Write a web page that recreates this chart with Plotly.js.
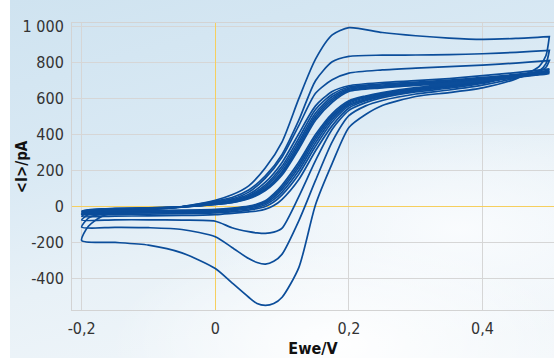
<!DOCTYPE html>
<html>
<head>
<meta charset="utf-8">
<script src="https://cdn.plot.ly/plotly-3.0.1.min.js"></script>
<style>
  html, body { margin: 0; padding: 0; width: 554px; height: 358px; overflow: hidden; background: #ffffff; }
  #bg { position: absolute; left: 10px; top: 0; width: 544px; height: 358px;
        background:
          radial-gradient(ellipse 230px 110px at 330px 345px, rgba(255,255,255,0.95), rgba(255,255,255,0) 100%),
          radial-gradient(ellipse 260px 110px at 450px 230px, rgba(250,252,254,0.95), rgba(250,252,254,0) 100%),
          linear-gradient(165deg, #cfe3f0 0%, #d9e9f4 35%, #e8f1f7 60%, #f4f8fb 100%); }
  #chart { position: absolute; left: 0; top: 0; width: 554px; height: 358px; }
</style>
</head>
<body>
<div id="bg"></div>
<div id="chart"></div>
<script>
// Potential grids (V) for the forward (anodic) and reverse (cathodic) sweeps
var E_fwd = [-0.2, -0.19, -0.17, -0.15, -0.1, -0.05, 0, 0.025, 0.05, 0.075, 0.1, 0.125, 0.15, 0.175, 0.2, 0.25, 0.3, 0.35, 0.4, 0.45, 0.5];
var E_rev = [0.5, 0.495, 0.485, 0.47, 0.45, 0.4, 0.35, 0.3, 0.25, 0.225, 0.2, 0.175, 0.15, 0.125, 0.1, 0.0875, 0.075, 0.0625, 0.05, 0.025, 0, -0.05, -0.1, -0.15, -0.2];

// Currents (pA), one cycle per pair of arrays
var cycle1_fwd = [-190, -110, -55, -35, -18, 0, 35, 65, 115, 215, 360, 600, 820, 955, 995, 968, 950, 937, 930, 935, 945];
var cycle1_rev = [945, 840, 780, 745, 710, 660, 634, 612, 562, 512, 440, 240, 10, -340, -505, -540, -550, -540, -505, -425, -345, -258, -215, -200, -190];
var cycle2_fwd = [-115, -65, -40, -30, -18, -2, 30, 50, 92, 170, 290, 480, 700, 805, 835, 842, 843, 845, 850, 858, 868];
var cycle2_rev = [868, 795, 755, 735, 715, 675, 648, 626, 590, 560, 505, 360, 145, -80, -265, -305, -321, -312, -290, -228, -168, -128, -118, -116, -115];
var cycle3_fwd = [-75, -45, -30, -25, -15, -3, 25, 42, 80, 158, 275, 450, 630, 705, 742, 760, 770, 778, 787, 798, 812];
var cycle3_rev = [812, 775, 752, 740, 725, 685, 658, 638, 606, 578, 535, 430, 255, 55, -120, -143, -150, -147, -140, -118, -82, -76, -74, -74, -75];
var cycle4_fwd = [-55, -35, -25, -20, -12, -2, 20, 36, 68, 135, 245, 405, 560, 640, 672, 690, 700, 712, 728, 745, 766];
var cycle4_rev = [766, 752, 744, 735, 723, 690, 664, 643, 613, 588, 548, 450, 310, 150, 40, 5, -15, -25, -30, -38, -45, -50, -52, -54, -55];
var cycle5_fwd = [-45, -30, -22, -18, -11, -2, 17, 32, 60, 120, 225, 380, 540, 625, 665, 682, 692, 703, 718, 735, 757];
var cycle5_rev = [757, 748, 741, 734, 723, 693, 668, 648, 617, 594, 560, 470, 335, 180, 65, 25, 0, -12, -20, -30, -36, -40, -42, -44, -45];
var cycle6_fwd = [-38, -26, -19, -16, -10, -2, 15, 28, 55, 110, 210, 360, 520, 612, 658, 676, 687, 698, 713, 730, 752];
var cycle6_rev = [752, 745, 739, 732, 722, 694, 671, 651, 621, 600, 568, 485, 355, 200, 80, 38, 10, -5, -14, -24, -30, -34, -36, -37, -38];
var cycle7_fwd = [-32, -22, -17, -14, -9, -2, 13, 25, 50, 100, 195, 345, 505, 600, 652, 670, 682, 694, 709, 726, 748];
var cycle7_rev = [748, 742, 737, 731, 721, 695, 674, 655, 626, 606, 575, 497, 372, 218, 95, 50, 18, 2, -8, -18, -25, -29, -31, -32, -32];
var cycle8_fwd = [-28, -20, -15, -12, -8, -2, 12, 23, 46, 94, 185, 332, 492, 590, 646, 665, 678, 690, 705, 722, 744];
var cycle8_rev = [744, 739, 735, 729, 720, 696, 676, 658, 630, 611, 582, 507, 387, 233, 108, 60, 25, 8, -3, -13, -20, -24, -26, -27, -28];
var cycle9_fwd = [-25, -18, -13, -11, -7, -2, 11, 21, 43, 88, 175, 320, 480, 580, 640, 660, 674, 686, 701, 718, 740];
var cycle9_rev = [740, 736, 733, 728, 719, 697, 678, 661, 634, 615, 588, 517, 400, 248, 120, 70, 32, 13, 2, -9, -16, -20, -22, -24, -25];

// Tick labels
var x_tickvals = [-0.2, 0, 0.2, 0.4];
var x_ticktext = ["-0,2", "0", "0,2", "0,4"];
var y_tickvals = [-400, -200, 0, 200, 400, 600, 800, 1000];
var y_ticktext = ["-400", "-200", "0", "200", "400", "600", "800", "1 000"];

var cycles = [
  [cycle1_fwd, cycle1_rev], [cycle2_fwd, cycle2_rev], [cycle3_fwd, cycle3_rev],
  [cycle4_fwd, cycle4_rev], [cycle5_fwd, cycle5_rev], [cycle6_fwd, cycle6_rev],
  [cycle7_fwd, cycle7_rev], [cycle8_fwd, cycle8_rev], [cycle9_fwd, cycle9_rev]
];

var lineColor = "#0b4d9a";
var traces = cycles.map(function (c) {
  return {
    x: E_fwd.concat(E_rev),
    y: c[0].concat(c[1]),
    type: "scatter",
    mode: "lines",
    line: { color: lineColor, width: 1.7, shape: "spline", smoothing: 0.7 },
    hoverinfo: "skip",
    showlegend: false
  };
});

var fam = "DejaVu Sans Condensed, sans-serif";
var tickFont = { family: fam, size: 16, color: "#333333" };

var layout = {
  width: 554,
  height: 358,
  margin: { l: 72, r: 0, t: 23, b: 48 },
  paper_bgcolor: "rgba(0,0,0,0)",
  plot_bgcolor: "rgba(0,0,0,0)",
  showlegend: false,
  xaxis: {
    range: [-0.2145, 0.507],
    tickvals: x_tickvals,
    ticktext: x_ticktext,
    tickfont: tickFont,
    ticks: "",
    ticklabelstandoff: 4,
    showgrid: true,
    gridcolor: "#d6d6d6",
    gridwidth: 1,
    zeroline: true,
    zerolinecolor: "#f6cf5e",
    zerolinewidth: 1.5,
    showline: true,
    linecolor: "#d3d3d3",
    linewidth: 1,
    mirror: true,
    title: { text: "<b>Ewe/V</b>", font: { family: fam, size: 16, color: "#111111" }, standoff: 8 }
  },
  yaxis: {
    range: [-576, 1021],
    tickvals: y_tickvals,
    ticktext: y_ticktext,
    tickfont: tickFont,
    ticks: "",
    ticklabelstandoff: 4,
    showgrid: true,
    gridcolor: "#d6d6d6",
    gridwidth: 1,
    zeroline: true,
    zerolinecolor: "#f6cf5e",
    zerolinewidth: 1.5,
    showline: true,
    linecolor: "#d3d3d3",
    linewidth: 1
  },
  annotations: [{
    text: "<b>&lt;I&gt;/pA</b>",
    xref: "paper", yref: "paper",
    x: -0.104, y: 0.5,
    xanchor: "center", yanchor: "middle",
    textangle: -90,
    showarrow: false,
    font: { family: fam, size: 15, color: "#111111" }
  }]
};

Plotly.newPlot("chart", traces, layout, { staticPlot: true, displayModeBar: false });
</script>
</body>
</html>
